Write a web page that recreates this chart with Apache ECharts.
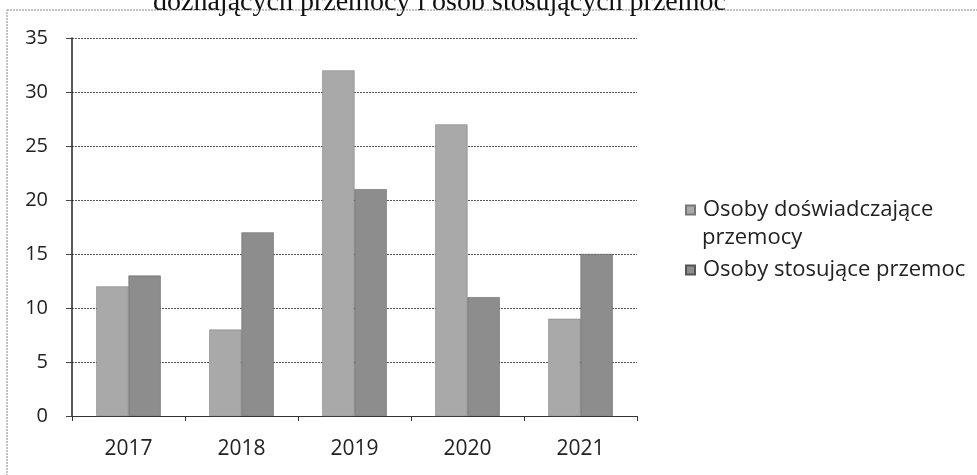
<!DOCTYPE html>
<html>
<head>
<meta charset="utf-8">
<script src="https://cdn.jsdelivr.net/npm/echarts@6/dist/echarts.min.js"></script>
<style>
  html, body { margin: 0; padding: 0; background: #fff; }
  #main { width: 977px; height: 475px; }
</style>
</head>
<body>
<div id="main"></div>
<script>
// dane z wykresu
var years = ['2017', '2018', '2019', '2020', '2021'];
var doswiadczajace = [12, 8, 32, 27, 9];
var stosujace = [13, 17, 21, 11, 15];
var seriesNames = ['Osoby doświadczające', 'Osoby stosujące przemoc'];
var colors = ['#a9a9a9', '#8d8d8d'];

var chart = echarts.init(document.getElementById('main'));

var option = {
    animation: false,
    backgroundColor: '#fff',
    color: colors,
    title: {
        text: 'doznających przemocy i osób stosujących przemoc',
        left: 148,
        top: -16,
        textStyle: {
            fontFamily: 'Liberation Serif',
            fontWeight: 'normal',
            fontSize: 28,
            color: '#111'
        }
    },
    graphic: [
        {
            type: 'rect',
            shape: { x: 7, y: 10, width: 975, height: 470 },
            style: { fill: 'none', stroke: '#888', lineWidth: 1, lineDash: [2, 1] },
            silent: true
        },
        {
            // druga linia pierwszej pozycji legendy
            type: 'text',
            left: 702,
            top: 227,
            style: {
                text: 'przemocy',
                fontFamily: 'Open Sans',
                fontSize: 22,
                fill: '#222'
            },
            silent: true
        }
    ],
    legend: {
        orient: 'vertical',
        left: 680,
        top: 190,
        itemGap: 30,
        itemWidth: 9,
        itemHeight: 9,
        icon: 'rect',
        data: seriesNames,
        textStyle: {
            fontFamily: 'Open Sans',
            fontSize: 22,
            lineHeight: 30,
            padding: [0, 0, 0, 3],
            color: '#222'
        }
    },
    grid: {
        left: 72,
        right: 340,
        top: 38,
        bottom: 59,
        containLabel: false
    },
    xAxis: {
        type: 'category',
        data: years,
        axisLine: { show: true, lineStyle: { color: '#333', width: 1 } },
        axisTick: { show: true, length: 5, lineStyle: { color: '#333' } },
        axisLabel: {
            margin: 23,
            fontFamily: 'Open Sans',
            fontSize: 21,
            color: '#222'
        }
    },
    yAxis: {
        type: 'value',
        min: 0,
        max: 35,
        interval: 5,
        axisLine: { show: true, lineStyle: { color: '#222', width: 1.5 } },
        axisTick: { show: true, length: 6, lineStyle: { color: '#444' } },
        axisLabel: {
            margin: 24,
            fontFamily: 'Open Sans',
            fontSize: 20,
            color: '#222'
        },
        splitLine: {
            show: true,
            lineStyle: { color: '#555', type: [2, 1], width: 1 }
        }
    },
    series: [
        {
            name: seriesNames[0],
            type: 'bar',
            data: doswiadczajace,
            barGap: '0%',
            barCategoryGap: '43%',
            itemStyle: { color: colors[0], borderColor: '#777', borderWidth: 0.5 }
        },
        {
            name: seriesNames[1],
            type: 'bar',
            data: stosujace,
            barGap: '0%',
            barCategoryGap: '43%',
            itemStyle: { color: colors[1], borderColor: '#555', borderWidth: 0.5 }
        }
    ]
};

chart.setOption(option);
</script>
</body>
</html>
